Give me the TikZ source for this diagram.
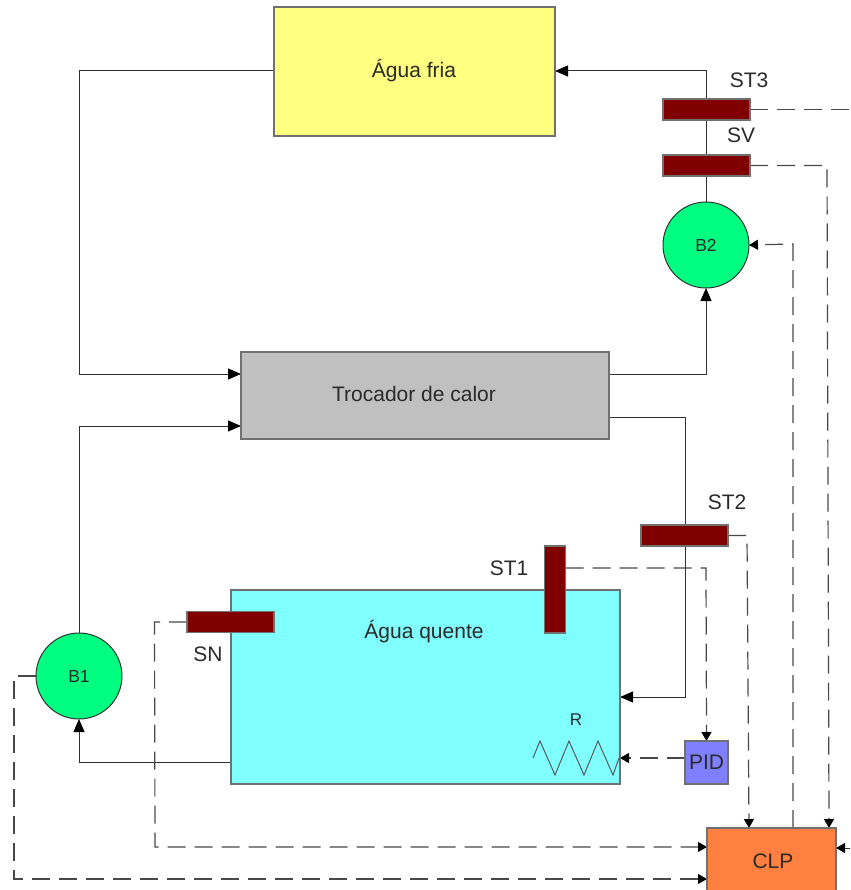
\documentclass[tikz,border=0pt]{standalone}
\usepackage{fontspec}
\setmainfont{Liberation Sans}
\usetikzlibrary{arrows.meta,backgrounds}
\definecolor{edgegray}{HTML}{707070}
\definecolor{linedark}{HTML}{303030}
\definecolor{sigdark}{HTML}{484848}
\definecolor{textdark}{HTML}{2A2A2A}
\definecolor{yel}{HTML}{FFFF80}
\definecolor{cya}{HTML}{80FFFF}
\definecolor{grn}{HTML}{00FF80}
\definecolor{drk}{HTML}{800000}
\definecolor{pidc}{HTML}{8080FF}
\definecolor{clpc}{HTML}{FF8040}
\definecolor{grayb}{HTML}{C0C0C0}
\tikzset{
  base/.style={draw=edgegray,line width=1.3pt,inner sep=0pt,outer sep=0pt,text=textdark,font=\fontsize{21}{24}\selectfont},
  tank/.style={base,rectangle},
  sensor/.style={base,rectangle,fill=drk,minimum width=87pt,minimum height=21pt},
  sensorv/.style={base,rectangle,fill=drk,minimum width=21pt,minimum height=87pt},
  pump/.style={draw=linedark,line width=1pt,circle,fill=grn,minimum size=86pt,inner sep=0pt,outer sep=0pt,text=textdark,font=\fontsize{17.5}{20}\selectfont},
  lbl/.style={inner sep=0pt,text=textdark,font=\fontsize{21}{24}\selectfont},
  lblsmall/.style={lbl,font=\fontsize{17}{20}\selectfont},
  pipe/.style={draw=linedark,line width=1pt},
  pipearrow/.style={pipe,-{Triangle[length=13pt,width=11pt,color=black]}},
  signal/.style={draw=sigdark,line width=1.2pt,dash pattern=on 18pt off 9pt},
  signalarrow/.style={signal,-{Triangle[length=9pt,width=10pt,color=black]}},
}
\begin{document}
\begin{tikzpicture}[x=1pt,y=-1pt]
\useasboundingbox (0,0) rectangle (850,890);
% equipment
\node[tank,fill=yel,minimum width=281pt,minimum height=129pt] (fria) at (414.5,71.5) {};
\node[tank,fill=grayb,minimum width=368pt,minimum height=87pt] (troc) at (425,395.5) {};
\node[tank,fill=cya,minimum width=389pt,minimum height=194pt] (quente) at (425.5,687) {};
\node[pump] (b1) at (79,676) {B1};
\node[pump] (b2) at (706,245) {B2};
\node[sensor] (st3) at (706.5,109.5) {};
\node[sensor] (sv) at (706.5,165.5) {};
\node[sensor] (st2) at (684.5,535.5) {};
\node[sensorv] (st1) at (555,589.5) {};
\node[sensor] (sn) at (230.5,622) {};
\node[tank,fill=pidc,minimum width=43pt,minimum height=43pt] (pid) at (706.5,762.5) {PID};
\node[tank,fill=clpc,minimum width=129pt,minimum height=68pt] (clp) at (771.5,862) {};
% labels
\node[lbl] (tfria) at (414,71) {Água fria};
\node[lbl] (ttroc) at (414,394) {Trocador de calor};
\node[lbl] (tquente) at (424,632) {Água quente};
\node[lbl] (tst3) at (749,80) {ST3};
\node[lbl] (tsv) at (741,135) {SV};
\node[lbl] (tst2) at (727,502) {ST2};
\node[lbl] (tst1) at (509,568) {ST1};
\node[lbl] (tsn) at (208,654) {SN};
\node[lblsmall] (tr) at (576,720) {R};
\node[lbl] (tclp) at (773,861) {CLP};
% heater
\coordinate (r0) at (533,758);
\draw[draw=linedark!80,line width=1pt] (r0) -- (540,741) -- (555,775) -- (569,741) -- (584,775) -- (598,741) -- (613,775) -- (619,758);
% free ends
\coordinate (e3) at (850,109.5);
\coordinate (eclp) at (850,848);
\begin{pgfonlayer}{background}
% water circuit
\draw[pipearrow] (fria.west |- 0,71) -- (79,71) -- (79,374) -- (troc.west |- 0,374);
\draw[pipearrow] (b1.north) -- (79,426) -- (troc.west |- 0,426);
\draw[pipearrow] (troc.east |- 0,374) -- (706,374) -- (b2.south);
\draw[pipearrow] (b2.north) -- (706,71) -- (fria.east |- 0,71);
\draw[pipearrow] (troc.east |- 0,417) -- (685,417) -- (685,697) -- (quente.east |- 0,697);
\draw[pipearrow] (quente.west |- 0,762) -- (79,762) -- (b1.south);
% signals
\draw[signal] (st3.east) -- (e3);
\draw[signalarrow] (sv.east) -- (827,165.5) -- (829,828);
\draw[signalarrow] (clp.north -| 793,0) -- (793,244) -- (b2.east);
\draw[signalarrow] (st2.east) -- (747,535.5) -- (749,828);
\draw[signalarrow] (st1.east |- 0,568) -- (706,568) -- (pid.north);
\draw[signalarrow] (pid.west |- 0,758) -- (quente.east |- 0,758);
\draw[signalarrow] (sn.west) -- (154.5,622) -- (155,847) -- (clp.west |- 0,847);
\draw[signalarrow] (b1.west) -- (14,676) -- (14,879) -- (clp.west |- 0,879);
\draw[pipe,-{Triangle[length=9pt,width=10pt,color=black]}] (eclp) -- (clp.east |- eclp);
\end{pgfonlayer}
\end{tikzpicture}
\end{document}
